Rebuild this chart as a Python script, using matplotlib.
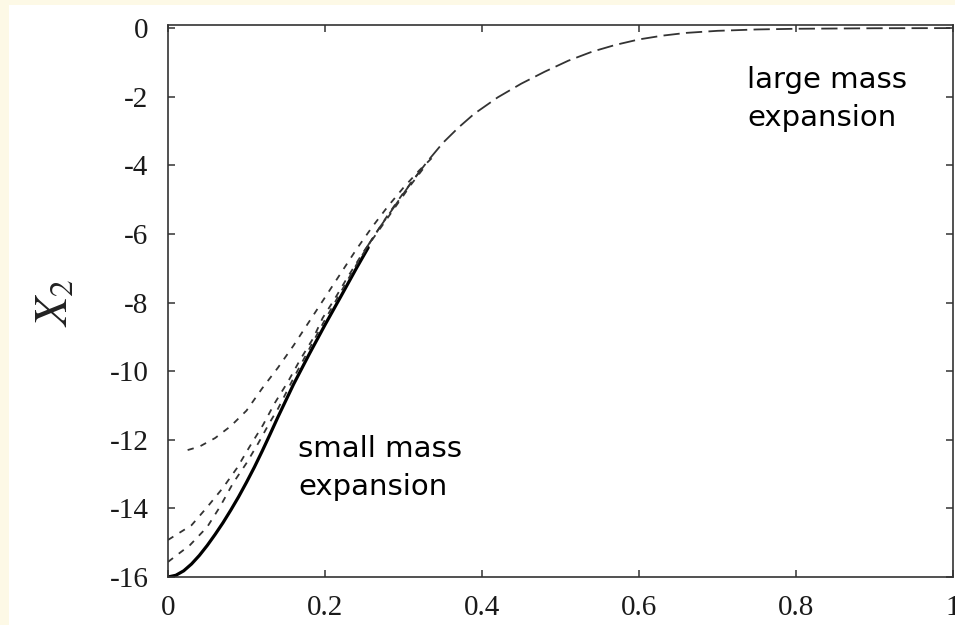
import matplotlib
matplotlib.use('Agg')
import matplotlib.pyplot as plt
from matplotlib.patches import Rectangle
from matplotlib.ticker import FuncFormatter

# exact result (solid)
x_exact = [0, 0.01, 0.02, 0.03, 0.04, 0.05, 0.06, 0.07, 0.08, 0.09, 0.10, 0.11, 0.12, 0.13, 0.14,
           0.16, 0.18, 0.20, 0.22, 0.24, 0.255]
y_exact = [-16, -15.95, -15.82, -15.62, -15.37, -15.08, -14.76, -14.42, -14.05, -13.66, -13.24,
           -12.8, -12.33, -11.84, -11.34, -10.38, -9.5, -8.65, -7.83, -7.0, -6.4]

# small mass expansions (short dashes)
x_small1 = [0.025, 0.04, 0.06, 0.08, 0.10, 0.12, 0.14, 0.16, 0.18, 0.20, 0.22, 0.24, 0.26, 0.28, 0.30, 0.32, 0.34]
y_small1 = [-12.3, -12.2, -11.95, -11.6, -11.15, -10.5, -9.9, -9.25, -8.55, -7.85, -7.15, -6.45, -5.8, -5.2, -4.65, -4.15, -3.7]

x_small2 = [0, 0.03, 0.05, 0.07, 0.088, 0.104, 0.121, 0.136, 0.153, 0.168, 0.185, 0.197, 0.213, 0.228, 0.248, 0.27, 0.29, 0.31, 0.33]
y_small2 = [-14.92, -14.49, -13.96, -13.4, -12.82, -12.2, -11.57, -10.93, -10.3, -9.68, -9.04, -8.45, -7.87, -7.29, -6.56, -5.85, -5.2, -4.55, -3.95]

x_small3 = [0, 0.028, 0.05, 0.066, 0.083, 0.10, 0.115, 0.13, 0.14, 0.16, 0.18, 0.20, 0.22, 0.24, 0.26, 0.28, 0.30, 0.32]
y_small3 = [-15.56, -15.07, -14.54, -13.96, -13.26, -12.68, -12.1, -11.48, -11.1, -10.2, -9.35, -8.5, -7.7, -6.9, -6.15, -5.45, -4.8, -4.2]

# large mass expansion (long dashes)
x_large = [0.25, 0.27, 0.29, 0.31, 0.33, 0.35, 0.37, 0.39, 0.42, 0.45, 0.48, 0.51, 0.54, 0.57,
           0.60, 0.63, 0.66, 0.70, 0.75, 0.80, 0.90, 1.00]
y_large = [-6.5, -5.8, -5.15, -4.5, -3.9, -3.35, -2.9, -2.5, -2.02, -1.62, -1.27, -0.95, -0.69, -0.49,
           -0.33, -0.22, -0.14, -0.08, -0.04, -0.02, -0.005, 0.0]

x_ticks = [0, 0.2, 0.4, 0.6, 0.8, 1.0]
y_ticks = [0, -2, -4, -6, -8, -10, -12, -14, -16]

plt.rcParams['mathtext.fontset'] = 'stix'

fig = plt.figure(figsize=(9.55, 6.25), dpi=100)
fig.patch.set_facecolor('#fdf9e6')
fig.patches.append(Rectangle((9 / 955, 0), 1, 620 / 625, transform=fig.transFigure,
                             facecolor='white', edgecolor='none', zorder=-10))

ax = fig.add_axes([168 / 955, 48 / 625, 785 / 955, 552 / 625])
ax.set_facecolor('white')

ax.plot(x_exact, y_exact, color='black', lw=2.3, solid_capstyle='round')
for xs, ys in [(x_small1, y_small1), (x_small2, y_small2), (x_small3, y_small3)]:
    ax.plot(xs, ys, color='#333333', lw=1.3, ls=(0, (3.5, 4)))
ax.plot(x_large, y_large, color='#333333', lw=1.3, ls=(0, (9, 3.5)))

ax.set_xlim(0, 1)
ax.set_ylim(-16, 0.09)
ax.set_xticks(x_ticks)
ax.set_yticks(y_ticks)

fmt = FuncFormatter(lambda v, p: ('%g' % v).replace('\u2212', '-'))
ax.xaxis.set_major_formatter(fmt)
ax.yaxis.set_major_formatter(fmt)

ax.tick_params(direction='in', length=5, width=1.1, color='#333333',
               top=True, right=True, labelsize=21)
ax.tick_params(axis='x', pad=13)
ax.tick_params(axis='y', pad=14)
for lab in ax.get_xticklabels() + ax.get_yticklabels():
    lab.set_fontfamily('Liberation Serif')
    lab.set_color('#1a1a1a')
for s in ax.spines.values():
    s.set_linewidth(1.2)
    s.set_color('#333333')

fig.text(55 / 955, 1 - 303 / 625, '$X_2$', rotation=90, fontsize=34,
         ha='center', va='center', color='#222222')

ax.text(0.7376, -1.1, 'large mass\nexpansion', fontsize=21, family='DejaVu Sans',
        ha='left', va='top', linespacing=1.45)
ax.text(0.1656, -11.85, 'small mass\nexpansion', fontsize=21, family='DejaVu Sans',
        ha='left', va='top', linespacing=1.45)

fig.savefig('out.png', dpi=100, facecolor=fig.get_facecolor())
